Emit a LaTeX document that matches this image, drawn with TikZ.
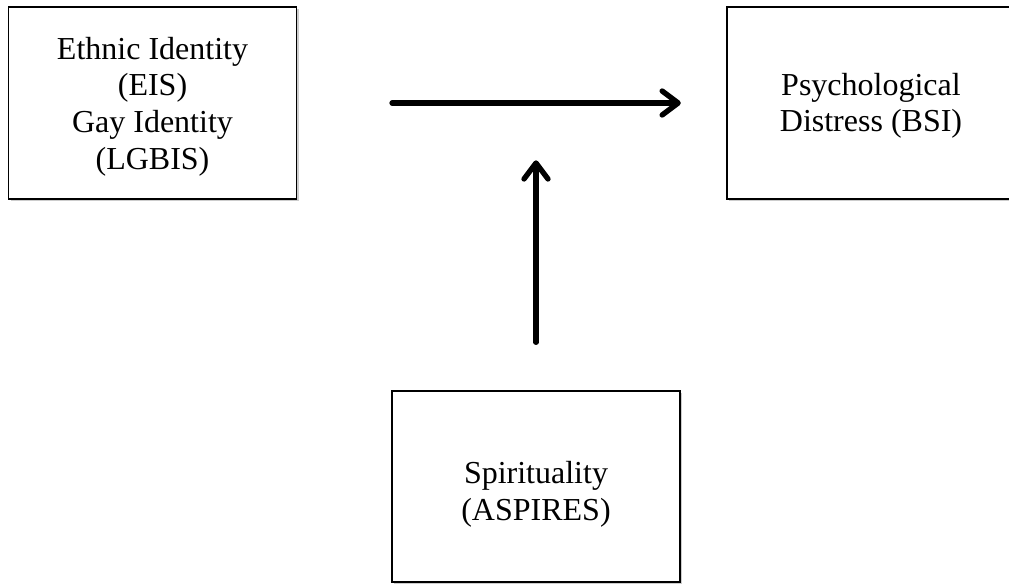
\documentclass[tikz,border=0pt]{standalone}
\usepackage{fontspec}
\setmainfont{Liberation Serif}
\usetikzlibrary{arrows.meta,shadows}

% text block of a box, moved down by #1
\newcommand{\boxtext}[2]{\raisebox{-#1}[\height][\depth]{%
  \setlength{\tabcolsep}{0pt}\begin{tabular}{c}#2\end{tabular}}}

\tikzset{
  box/.style={draw,line width=1.3pt,fill=white,
    minimum width=216pt,minimum height=144pt,inner sep=0pt,
    font=\fontsize{24}{27.5}\selectfont,
    drop shadow={opacity=0.4,shadow xshift=1.5pt,shadow yshift=-1.5pt}},
  arr/.style={line width=4pt,line cap=round,
    -{Straight Barb[round,length=12pt,width=18pt]}}
}

\begin{document}
\begin{tikzpicture}[x=0.75pt,y=-0.75pt]
  \useasboundingbox (0,0) rectangle (1009,584);
  \node (ident)    at (152.5,103) [box] {\boxtext{3pt}{Ethnic Identity\\(EIS)\\Gay Identity\\(LGBIS)}};
  \node (distress) at (871,103)   [box] {\boxtext{2.5pt}{Psychological\\Distress (BSI)}};
  \node (spirit)   at (536,486.5) [box,minimum height=143pt] {\boxtext{6pt}{Spirituality\\(ASPIRES)}};
  \coordinate (mid) at (536,103);
  \draw[arr,shorten <=71pt,shorten >=34pt] (ident) -- (distress);
  \draw[arr,shorten <=36pt,shorten >=43pt] (spirit.north) -- (mid);
\end{tikzpicture}
\end{document}
